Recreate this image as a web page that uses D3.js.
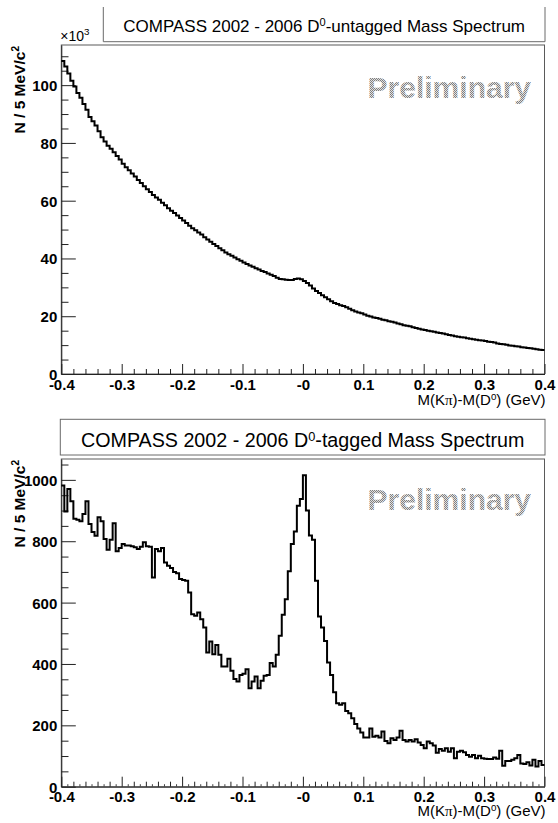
<!DOCTYPE html>
<html><head><meta charset="utf-8">
<script src="https://cdn.jsdelivr.net/npm/d3@7"></script>
<style>
html,body{margin:0;padding:0;background:#fff;}
svg{display:block;font-family:"Liberation Sans",Arial,Helvetica,sans-serif;}
</style></head><body>
<svg id="c" width="558" height="823"></svg>
<script>
// ---------------- DATA ----------------
const binLowEdge = -0.4;          // GeV
const binWidthGeV = 0.005;        // 5 MeV bins
const xTickValues = [-0.4,-0.3,-0.2,-0.1,0,0.1,0.2,0.3,0.4];
const xTickLabels = ["-0.4","-0.3","-0.2","-0.1","-0","0.1","0.2","0.3","0.4"];
const topYTicks = [0,20,40,60,80,100];          // x10^3
const bottomYTicks = [0,200,400,600,800,1000];

// D0-untagged spectrum (entries / 5 MeV, in units of 10^3), 160 bins
const untaggedCounts = [
108.4,106.5,104.0,101.5,99.5,97.3,95.6,93.5,91.5,89.0,
87.5,86.0,84.0,82.0,80.5,79.0,78.0,76.8,75.5,74.3,
72.8,71.6,70.5,69.4,68.4,67.2,66.1,65.0,64.0,63.0,
62.0,61.1,60.3,59.3,58.4,57.4,56.5,55.7,54.9,54.0,
53.1,52.3,51.3,50.5,49.8,49.0,48.3,47.3,46.6,45.8,
45.0,44.3,43.5,42.8,42.1,41.5,40.9,40.3,39.7,39.2,
38.6,38.1,37.6,37.1,36.6,36.2,35.7,35.3,34.8,34.4,
33.9,33.3,32.9,32.8,32.6,32.5,32.5,32.9,33.1,32.8,
32.2,31.5,30.6,29.6,28.7,28.0,27.3,26.6,25.9,25.2,
24.6,24.2,23.8,23.5,23.1,22.6,22.1,21.6,21.3,21.0,
20.6,20.2,19.9,19.6,19.4,19.1,18.8,18.6,18.3,18.1,
17.8,17.5,17.2,16.9,16.7,16.5,16.2,15.9,15.7,15.4,
15.2,15.0,14.8,14.6,14.4,14.2,14.0,13.8,13.5,13.3,
13.1,12.9,12.7,12.6,12.4,12.2,12.0,11.9,11.7,11.6,
11.4,11.2,11.1,10.9,10.6,10.4,10.3,10.1,9.9,9.8,
9.6,9.5,9.3,9.2,9.0,8.9,8.7,8.6,8.4,8.3
];

// D0-tagged spectrum (entries / 5 MeV), 160 bins
const taggedCounts = [
982,897,970,930,873,870,865,889,930,856,
830,818,878,865,807,772,805,859,767,778,
791,786,786,784,780,775,782,797,784,782,
682,775,767,778,731,720,713,700,696,677,
674,671,633,562,557,568,546,519,437,473,
432,462,430,392,392,417,378,351,343,364,
368,383,321,343,359,321,345,362,364,403,
392,430,492,560,611,702,791,832,916,938,
1015,900,819,805,671,555,519,475,405,364,
308,272,267,272,247,239,223,204,190,177,
160,160,190,163,166,160,180,149,142,158,
152,160,182,152,147,152,147,155,144,136,
125,147,142,134,111,123,117,125,114,125,
93,114,117,112,103,98,103,93,101,93,
91,90,90,95,91,117,68,84,84,88,
93,103,76,74,80,69,88,66,84,71
];

// ---------------- DRAW ----------------
const svg = d3.select("#c");
const defs = svg.append("defs");
const pat = defs.append("pattern").attr("id","dither").attr("width",2).attr("height",2)
  .attr("patternUnits","userSpaceOnUse");
pat.append("rect").attr("x",0).attr("y",0).attr("width",1).attr("height",1).attr("fill","#808080");
pat.append("rect").attr("x",1).attr("y",1).attr("width",1).attr("height",1).attr("fill","#808080");
pat.append("rect").attr("x",1).attr("y",0).attr("width",1).attr("height",1).attr("fill","#e0e0e0");
pat.append("rect").attr("x",0).attr("y",1).attr("width",1).attr("height",1).attr("fill","#e0e0e0");

const edges = d3.range(untaggedCounts.length + 1).map(i => binLowEdge + i * binWidthGeV);

function fitText(sel, target) {
  const w = sel.node().getComputedTextLength();
  const fs = parseFloat(sel.attr("font-size"));
  sel.attr("font-size", (fs * target / w).toFixed(2));
}

function panel(cfg) {
  const g = svg.append("g");
  const x = d3.scaleLinear().domain([-0.4, 0.4]).range([cfg.left, cfg.right]);
  const y = d3.scaleLinear().domain([0, cfg.ymax]).range([cfg.bottom, cfg.top]);

  // title box
  const tb = cfg.tbox;
  if (tb.topLine) {
    g.append("rect").attr("x",tb.x0).attr("y",tb.y0).attr("width",tb.x1-tb.x0).attr("height",tb.y1-tb.y0)
      .attr("fill","none").attr("stroke","#6a6a6a").attr("stroke-width",1);
  } else {
    g.append("path").attr("d",`M${tb.x0},${tb.y0}V${tb.y1}H${tb.x1}V${tb.y0}`)
      .attr("fill","none").attr("stroke","#6a6a6a").attr("stroke-width",1);
  }
  const tt = g.append("text").attr("x",(tb.x0+tb.x1)/2).attr("y",tb.baseline)
    .attr("text-anchor","middle").attr("font-size",17).attr("fill","#000");
  tt.append("tspan").text("COMPASS 2002 - 2006 D");
  tt.append("tspan").attr("dy",-6).attr("font-size","0.65em").text("0");
  tt.append("tspan").attr("dy",6).text(cfg.titleRest);
  fitText(tt, tb.textWidth);

  // Preliminary
  g.append("text").attr("x",531).attr("y",cfg.prelimY).attr("text-anchor","end")
    .attr("font-size",30).attr("font-weight","bold").attr("fill","url(#dither)").text("Preliminary");

  // frame
  g.append("rect").attr("x",cfg.left).attr("y",cfg.top).attr("width",cfg.right-cfg.left)
    .attr("height",cfg.bottom-cfg.top).attr("fill","none").attr("stroke","#5a5a5a").attr("stroke-width",1);

  // x axis
  const xa = g.append("g").attr("transform",`translate(0,${cfg.bottom})`);
  const xMajor = d3.axisBottom(x).tickValues(xTickValues).tickFormat((d,i)=>xTickLabels[i])
    .tickSize(-10).tickSizeOuter(0).tickPadding(5);
  xa.call(xMajor);
  xa.select(".domain").attr("stroke","#222");
  xa.selectAll(".tick line").attr("stroke","#222");
  xa.selectAll(".tick text").attr("font-size",15).attr("font-weight","bold").attr("font-family","Liberation Sans, Arial, sans-serif").attr("fill","#000");
  const minorX = d3.range(-0.4, 0.4001, 0.02).filter(v => Math.abs(Math.round(v*10) - v*10) > 1e-6);
  g.append("g").attr("transform",`translate(0,${cfg.bottom})`)
    .call(d3.axisBottom(x).tickValues(minorX).tickFormat("").tickSize(-5).tickSizeOuter(0))
    .call(s => { s.select(".domain").remove(); s.selectAll("text").remove(); s.selectAll("line").attr("stroke","#222"); });
  if (cfg.tertiary) {
    const terX = d3.range(-0.39, 0.4, 0.02);
    g.append("g").attr("transform",`translate(0,${cfg.bottom})`)
      .call(d3.axisBottom(x).tickValues(terX).tickFormat("").tickSize(-2.5).tickSizeOuter(0))
      .call(s => { s.select(".domain").remove(); s.selectAll("text").remove(); s.selectAll("line").attr("stroke","#444"); });
  }

  // y axis
  const ya = g.append("g").attr("transform",`translate(${cfg.left},0)`);
  ya.call(d3.axisLeft(y).tickValues(cfg.yTicks).tickFormat(d3.format("d")).tickSize(-14.5).tickSizeOuter(0).tickPadding(4));
  ya.select(".domain").attr("stroke","#222");
  ya.selectAll(".tick line").attr("stroke","#222");
  ya.selectAll(".tick text").attr("font-size",15).attr("font-weight","bold").attr("font-family","Liberation Sans, Arial, sans-serif").attr("fill","#000").attr("dy","0.36em");
  const minorY = d3.range(0, cfg.ymax, cfg.yMinorStep).filter(v => !cfg.yTicks.includes(v));
  g.append("g").attr("transform",`translate(${cfg.left},0)`)
    .call(d3.axisLeft(y).tickValues(minorY).tickFormat("").tickSize(-7.2).tickSizeOuter(0))
    .call(s => { s.select(".domain").remove(); s.selectAll("text").remove(); s.selectAll("line").attr("stroke","#222"); });

  // histogram
  const data = cfg.counts;
  const pts = data.map((v,i)=>[edges[i], v]).concat([[edges[data.length], data[data.length-1]]]);
  const line = d3.line().x(d=>x(d[0])).y(d=>y(d[1])).curve(d3.curveStepAfter);
  g.append("path").attr("d", line(pts)).attr("fill","none").attr("stroke","#000").attr("stroke-width",2);

  // x title
  const xt = g.append("text").attr("x",cfg.right+1).attr("y",cfg.xTitleY).attr("text-anchor","end")
    .attr("font-size",15).attr("fill","#000");
  xt.append("tspan").text("M(K");
  xt.append("tspan").attr("font-family","Liberation Serif, serif").text("π");
  xt.append("tspan").text(")-M(D");
  xt.append("tspan").attr("dy",-5).attr("font-size","0.65em").text("0");
  xt.append("tspan").attr("dy",5).text(") (GeV)");

  // y title
  const yt = g.append("text").attr("transform",`translate(24.5,${cfg.top+1}) rotate(-90)`)
    .attr("text-anchor","end").attr("font-size",15.5).attr("font-weight","bold").attr("fill","#000");
  yt.append("tspan").text("N / 5 MeV/c");
  yt.append("tspan").attr("dy",-6).attr("font-size","0.65em").text("2");

  if (cfg.exponent) {
    const ex = g.append("text").attr("x",cfg.left-1).attr("y",cfg.top-4).attr("font-size",14).attr("fill","#000");
    ex.append("tspan").text("\u00D710");
    ex.append("tspan").attr("dy",-6).attr("font-size","0.7em").text("3");
  }
}

panel({
  left:61.3, right:544.5, top:45, bottom:374, ymax:113.9,
  yTicks: topYTicks, yMinorStep:5, counts: untaggedCounts,
  tbox:{x0:103.3, x1:545, y0:7, y1:41.7, baseline:32, textWidth:402, topLine:false},
  titleRest:"-untagged Mass Spectrum", prelimY:98, xTitleY:405, exponent:true, tertiary:false
});
panel({
  left:61.3, right:544.5, top:459, bottom:786.7, ymax:1068,
  yTicks: bottomYTicks, yMinorStep:50, counts: taggedCounts,
  tbox:{x0:60.3, x1:545, y0:419.3, y1:455, baseline:447, textWidth:444, topLine:true},
  titleRest:"-tagged Mass Spectrum", prelimY:510, xTitleY:815.5, exponent:false, tertiary:true
});
</script>
</body></html>
